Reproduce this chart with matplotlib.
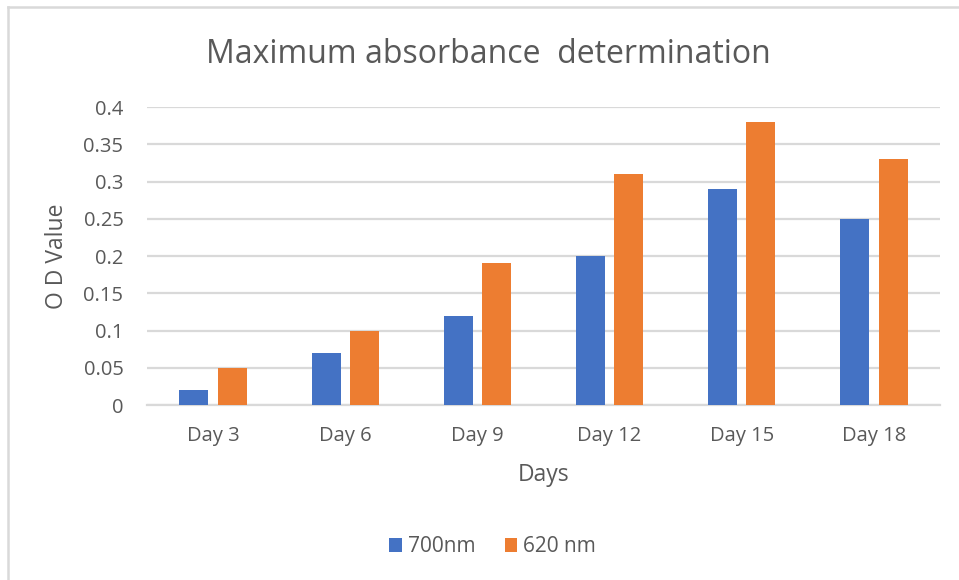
import matplotlib.pyplot as plt
import numpy as np
from matplotlib.lines import Line2D

days = ['Day 3', 'Day 6', 'Day 9', 'Day 12', 'Day 15', 'Day 18']
od_700 = [0.02, 0.07, 0.12, 0.20, 0.29, 0.25]
od_620 = [0.05, 0.10, 0.19, 0.31, 0.38, 0.33]
yticks = [0, 0.05, 0.1, 0.15, 0.2, 0.25, 0.3, 0.35, 0.4]
ytick_labels = ['0', '0.05', '0.1', '0.15', '0.2', '0.25', '0.3', '0.35', '0.4']

plt.rcParams['font.family'] = ['Open Sans', 'DejaVu Sans']
txt = '#595959'
grid = '#D9D9D9'

fig = plt.figure(figsize=(9.59, 5.8), dpi=100)
ax = fig.add_axes([0.1533, 0.3017, 0.9802 - 0.1533, 0.8155 - 0.3017])

x = np.arange(len(days))
w = 0.22
off = 0.145
ax.bar(x - off, od_700, w, color='#4472C4', label='700nm', zorder=3)
ax.bar(x + off, od_620, w, color='#ED7D31', label='620 nm', zorder=3)

ax.set_xlim(-0.5, len(days) - 0.5)
ax.set_ylim(0, 0.4)
ax.set_yticks(yticks)
ax.set_yticklabels(ytick_labels)
ax.set_xticks(x)
ax.set_xticklabels(days)
ax.yaxis.grid(True, color=grid, linewidth=1.6, zorder=0)
ax.set_axisbelow(True)
for s in ['top', 'right', 'left']:
    ax.spines[s].set_visible(False)
ax.spines['bottom'].set_color(grid)
ax.spines['bottom'].set_linewidth(1.6)
ax.tick_params(axis='both', length=0, colors=txt, labelsize=14.5)
ax.tick_params(axis='y', pad=17)
ax.tick_params(axis='x', pad=15)

ax.set_ylabel('O D Value', color=txt, fontsize=16.5, va='center')
ax.yaxis.set_label_coords(-0.1135, 0.5)
ax.set_xlabel('Days', color=txt, fontsize=16.5, va='center')
ax.xaxis.set_label_coords(0.5, -0.235)

fig.text(0.5095, 1 - 63 / 580, 'Maximum absorbance  determination', ha='center',
         va='baseline', color=txt, fontsize=23)

fig.legend(loc='center', bbox_to_anchor=(0.5136, 0.057), ncol=2, frameon=False,
           fontsize=15, handlelength=0.6, handleheight=0.6, handletextpad=0.3,
           columnspacing=1.4, labelcolor=txt)

# chart border (only top and left visible in the crop)
fig.add_artist(Line2D([8 / 959, 1], [1 - 7 / 580, 1 - 7 / 580], color=grid, linewidth=1.8))
fig.add_artist(Line2D([8 / 959, 8 / 959], [0, 1 - 7 / 580], color=grid, linewidth=1.8))

fig.savefig('out.png', dpi=100, facecolor='white')
